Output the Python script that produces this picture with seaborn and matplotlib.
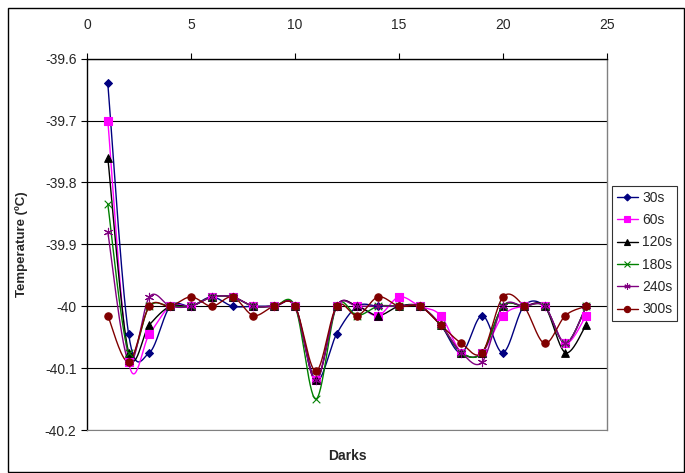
import numpy as np
import pandas as pd
import matplotlib
matplotlib.use("Agg")
import matplotlib.pyplot as plt
import seaborn as sns
from matplotlib.lines import Line2D

darks = list(range(1, 25))
t30 = [-39.64, -40.045, -40.075, -40.0, -40.0, -39.985, -40.0, -40.0, -40.0, -40.0,
       -40.12, -40.045, -40.0, -40.0, -40.0, -40.0, -40.03, -40.075, -40.015, -40.075,
       -40.0, -40.0, -40.06, -40.0]
t60 = [-39.70, -40.09, -40.045, -40.0, -40.0, -39.985, -39.985, -40.0, -40.0, -40.0,
       -40.12, -40.0, -40.0, -40.015, -39.985, -40.0, -40.015, -40.075, -40.075, -40.015,
       -40.0, -40.0, -40.06, -40.015]
t120 = [-39.76, -40.075, -40.03, -40.0, -40.0, -39.985, -39.985, -40.0, -40.0, -40.0,
        -40.12, -40.0, -40.0, -40.015, -40.0, -40.0, -40.03, -40.075, -40.075, -40.0,
        -40.0, -40.0, -40.075, -40.03]
t180 = [-39.835, -40.075, -40.0, -40.0, -40.0, -39.985, -39.985, -40.0, -40.0, -40.0,
        -40.15, -40.0, -40.015, -40.0, -40.0, -40.0, -40.03, -40.075, -40.075, -40.0,
        -40.0, -40.0, -40.06, -40.0]
t240 = [-39.88, -40.09, -39.985, -40.0, -40.0, -39.985, -39.985, -40.0, -40.0, -40.0,
        -40.12, -40.0, -40.0, -40.0, -40.0, -40.0, -40.03, -40.075, -40.09, -40.0,
        -40.0, -40.0, -40.06, -40.0]
t300 = [-40.015, -40.09, -40.0, -40.0, -39.985, -40.0, -39.985, -40.015, -40.0, -40.0,
        -40.105, -40.0, -40.015, -39.985, -40.0, -40.0, -40.03, -40.06, -40.075, -39.985,
        -40.0, -40.06, -40.015, -40.0]

series_names = ["30s", "60s", "120s", "180s", "240s", "300s"]
series_vals = [t30, t60, t120, t180, t240, t300]
colors = ["#000080", "#FF00FF", "#000000", "#008000", "#800080", "#800000"]
markers = ["D", "s", "^", "x", (6, 2, 0), "o"]
msizes = [16, 26, 30, 30, 36, 28]
yticks = [-40.2, -40.1, -40.0, -39.9, -39.8, -39.7, -39.6]
ytick_labels = ["-40.2", "-40.1", "-40", "-39.9", "-39.8", "-39.7", "-39.6"]
xticks = [0, 5, 10, 15, 20, 25]


def smooth(xs, ys, n=30):
    xs = np.asarray(xs, float)
    ys = np.asarray(ys, float)
    px = np.concatenate([[xs[0]], xs, [xs[-1]]])
    py = np.concatenate([[ys[0]], ys, [ys[-1]]])
    ox, oy = [], []
    t = np.linspace(0, 1, n, endpoint=False)
    for i in range(1, len(px) - 2):
        p0 = np.array([px[i], py[i]])
        p3 = np.array([px[i + 1], py[i + 1]])
        c1 = p0 + (p3 - np.array([px[i - 1], py[i - 1]])) / 6.0
        c2 = p3 - (np.array([px[i + 2], py[i + 2]]) - p0) / 6.0
        b = ((1 - t) ** 3)[:, None] * p0 + (3 * (1 - t) ** 2 * t)[:, None] * c1 + \
            (3 * (1 - t) * t ** 2)[:, None] * c2 + (t ** 3)[:, None] * p3
        ox.extend(b[:, 0]); oy.extend(b[:, 1])
    ox.append(xs[-1]); oy.append(ys[-1])
    return np.array(ox), np.array(oy)


sns.set_theme(style="white")
plt.rcParams["font.family"] = ["Liberation Sans", "DejaVu Sans"]

fig = plt.figure(figsize=(6.85, 4.73), dpi=100)
ax = fig.add_axes([87 / 685, 1 - 430 / 473, (607 - 87) / 685, (430 - 58.7) / 473])

for name, vals, c, m, s in zip(series_names, series_vals, colors, markers, msizes):
    sx, sy = smooth(darks, vals)
    dfl = pd.DataFrame({"x": sx, "y": sy})
    sns.lineplot(data=dfl, x="x", y="y", color=c, linewidth=1.0, ax=ax,
                 sort=False, estimator=None)
    dfm = pd.DataFrame({"x": darks, "y": vals})
    sns.scatterplot(data=dfm, x="x", y="y", color=c, marker=m, s=s, ax=ax,
                    edgecolor=c if m not in ("x", (6, 2, 0)) else None,
                    linewidth=0.8, zorder=3)

ax.set_xlim(0, 25)
ax.set_ylim(-40.2, -39.6)
ax.set_yticks(yticks)
ax.set_yticklabels(ytick_labels, fontsize=10)
ax.set_xticks(xticks)
ax.xaxis.tick_top()
ax.tick_params(axis="x", top=True, bottom=False, direction="out", length=4,
               labelsize=10, pad=15, width=0.8, color="black")
ax.tick_params(axis="y", left=True, direction="out", length=4, width=0.8,
               labelsize=10, color="black")
for yv in yticks:
    ax.axhline(yv, color="black", linewidth=0.8, zorder=0)
for side in ["left", "top"]:
    ax.spines[side].set_color("black")
    ax.spines[side].set_linewidth(1.0)
ax.spines["right"].set_color("#808080")
ax.spines["bottom"].set_color("#808080")
ax.spines["right"].set_linewidth(1.0)
ax.spines["bottom"].set_linewidth(0.8)

ax.set_xlabel("Darks", fontsize=10, fontweight="bold", labelpad=14)
ax.xaxis.set_label_position("bottom")
ax.set_ylabel("Temperature (ºC)", fontsize=9.5, fontweight="bold", labelpad=12)

handles = [Line2D([0], [0], color=c, marker=m, markersize=4.5 if m != "D" else 3.5,
                  linewidth=1.0, markeredgewidth=0.8)
           for c, m in zip(colors, markers)]
leg = ax.legend(handles, series_names, loc="center left", bbox_to_anchor=(1.01, 0.475),
                frameon=True, fontsize=10, handlelength=1.5, handletextpad=0.3,
                borderpad=0.35, labelspacing=0.6, fancybox=False, borderaxespad=0)
leg.get_frame().set_edgecolor("black")
leg.get_frame().set_linewidth(0.8)

fig.patches.append(plt.Rectangle((8 / 685, 1 / 473), 676 / 685, 464 / 473,
                                 transform=fig.transFigure, fill=False,
                                 edgecolor="black", linewidth=1.0))

fig.savefig("out.png", dpi=100)
